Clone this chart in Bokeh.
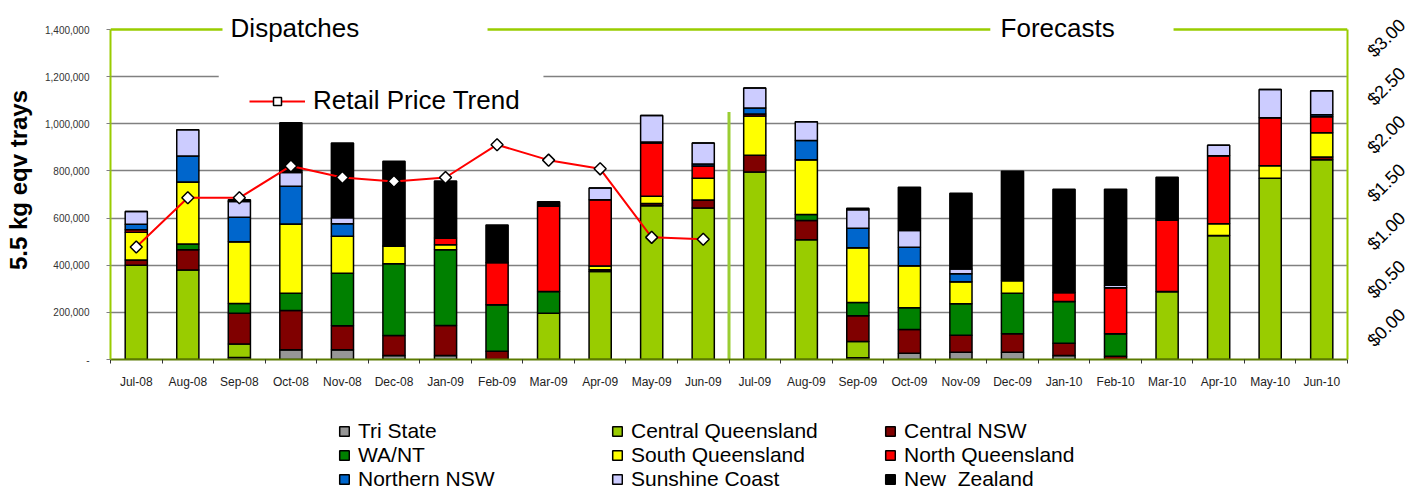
import math
from bokeh.plotting import figure
from bokeh.layouts import column
from bokeh.models import (ColumnDataSource, Range1d, LinearAxis, FixedTicker,
                          Legend, LegendItem, Label, BoxAnnotation)
from bokeh.embed import file_html
from bokeh.resources import INLINE

# ---------------- data ----------------
months = ["Jul-08", "Aug-08", "Sep-08", "Oct-08", "Nov-08", "Dec-08",
          "Jan-09", "Feb-09", "Mar-09", "Apr-09", "May-09", "Jun-09",
          "Jul-09", "Aug-09", "Sep-09", "Oct-09", "Nov-09", "Dec-09",
          "Jan-10", "Feb-10", "Mar-10", "Apr-10", "May-10", "Jun-10"]

series = ["Tri State", "Central Queensland", "Central NSW", "WA/NT",
          "South Queensland", "North Queensland", "Northern NSW",
          "Sunshine Coast", "New  Zealand"]
colors = ["#969696", "#99CC00", "#800000", "#008000", "#FFFF00",
          "#FF0000", "#0066CC", "#CCCCFF", "#000000"]

tri_state = [0, 0, 8000, 41000, 41000, 17000, 17000, 0, 0, 0, 0, 0,
             0, 0, 7000, 27000, 31000, 31000, 17000, 0, 0, 0, 0, 0]
central_qld = [400000, 380000, 58000, 0, 0, 0, 0, 0, 196000, 373000, 652000, 643000,
               795000, 508000, 69000, 0, 0, 0, 0, 0, 288000, 526000, 769000, 847000]
central_nsw = [22000, 86000, 130000, 167000, 102000, 85000, 127000, 35000, 0, 8000, 10000, 34000,
               71000, 82000, 110000, 100000, 72000, 78000, 52000, 14000, 0, 0, 0, 12000]
wa_nt = [0, 24000, 42000, 73000, 223000, 304000, 322000, 197000, 92000, 0, 0, 0,
         0, 25000, 56000, 93000, 134000, 172000, 177000, 95000, 0, 0, 0, 0]
south_qld = [118000, 263000, 262000, 294000, 157000, 75000, 21000, 0, 0, 16000, 31000, 92000,
             167000, 232000, 232000, 178000, 93000, 54000, 0, 0, 0, 50000, 53000, 103000]
north_qld = [10000, 0, 0, 0, 0, 0, 28000, 179000, 363000, 281000, 225000, 52000,
             8000, 0, 0, 0, 0, 0, 38000, 195000, 304000, 288000, 204000, 68000]
northern_nsw = [24000, 110000, 103000, 160000, 53000, 0, 0, 0, 0, 0, 5000, 8000,
                26000, 82000, 83000, 78000, 34000, 0, 0, 0, 0, 0, 0, 8000]
sunshine = [54000, 112000, 67000, 58000, 25000, 0, 0, 0, 0, 50000, 112000, 90000,
            85000, 80000, 78000, 71000, 20000, 0, 0, 11000, 0, 45000, 119000, 102000]
new_zealand = [0, 0, 8000, 211000, 318000, 360000, 242000, 160000, 18000, 0, 0, 0,
               0, 0, 7000, 184000, 321000, 464000, 438000, 407000, 181000, 0, 0, 0]

price_months = months[:12]
retail_price = [1.00, 1.51, 1.51, 1.84, 1.72, 1.68, 1.72, 2.06, 1.90, 1.81, 1.10, 1.08]

y_ticks = [0, 200000, 400000, 600000, 800000, 1000000, 1200000, 1400000]
y_tick_labels = ["-" if v == 0 else f"{v:,}" for v in y_ticks]
price_ticks = [0.0, 0.5, 1.0, 1.5, 2.0, 2.5, 3.0]
price_tick_labels = [f"${v:.2f}" for v in price_ticks]

FONT = "Liberation Sans"
GREEN = "#99CC00"

# ---------------- main figure ----------------
x_idx = list(range(len(months)))
data = {"x": x_idx}
cols = [tri_state, central_qld, central_nsw, wa_nt, south_qld, north_qld,
        northern_nsw, sunshine, new_zealand]
keys = [f"s{i}" for i in range(len(series))]
for k, c in zip(keys, cols):
    data[k] = c
src = ColumnDataSource(data)

Y_MAX = 1400000
# frame reaches the top of the page so the header texts are not clipped;
# the value axis itself stops at 1,400,000 (bounds)
p = figure(width=1417, height=390, frame_width=1237, frame_height=359,
           x_range=Range1d(-0.5, 23.5), y_range=Range1d(0, Y_MAX * 359 / 330),
           output_backend="svg", toolbar_location=None,
           min_border_left=110, min_border_right=70,
           min_border_top=0, min_border_bottom=31,
           background_fill_color="white", border_fill_color="white")
p.outline_line_color = None
p.xgrid.visible = False
p.ygrid.ticker = FixedTicker(ticks=y_ticks[1:-1])
p.ygrid.grid_line_color = "#808080"
p.ygrid.grid_line_width = 1.5

p.extra_y_ranges = {"price": Range1d(-16 / 96.5, 343 / 96.5)}

# mask of the 1.2M gridline behind the line legend
p.add_layout(BoxAnnotation(left=1.6, right=7.9, bottom=1185000, top=1215000,
                           fill_color="white", fill_alpha=1.0, line_color=None))

# stacked bars
bar_rs = p.vbar_stack(keys, x="x", width=0.43, source=src, color=colors,
                      line_color="black", line_width=1.5)

# separator between dispatches and forecasts
p.segment(x0=[11.5], y0=[0], x1=[11.5], y1=[1050000], line_color="#9ACD32", line_width=3)
# top bracket line
p.segment(x0=[-0.5, 6.815, 20.125], x1=[1.673, 16.57, 23.5],
          y0=[Y_MAX] * 3, y1=[Y_MAX] * 3, line_color=GREEN, line_width=2.5)

# retail price line
psrc = ColumnDataSource({"x": x_idx[:12], "price": retail_price})
line_r = p.line("x", "price", source=psrc, y_range_name="price",
                line_color="#FF0000", line_width=2)
scat_r = p.scatter("x", "price", source=psrc, y_range_name="price",
                   marker="square", angle=math.pi / 4, size=8.5, fill_color="white",
                   line_color="black", line_width=1.5)

# ---------------- axes ----------------
xa = p.xaxis[0]
xa.ticker = FixedTicker(ticks=x_idx, minor_ticks=[i - 0.5 for i in range(len(months) + 1)])
xa.major_label_overrides = {i: m for i, m in zip(x_idx, months)}
xa.major_tick_line_color = None
xa.minor_tick_in = 0
xa.minor_tick_out = 4
xa.minor_tick_line_color = "#333333"
xa.axis_line_color = "#5A7A00"
xa.axis_line_width = 2
xa.major_label_text_font = FONT
xa.major_label_text_font_size = "12px"
xa.major_label_text_color = "#222222"
xa.major_label_standoff = 9

ya = p.yaxis[0]
ya.ticker = FixedTicker(ticks=y_ticks)
ya.bounds = (0, Y_MAX)
ya.major_label_overrides = {v: s for v, s in zip(y_ticks, y_tick_labels)}
ya.minor_tick_line_color = None
ya.major_tick_in = 0
ya.major_tick_out = 4
ya.major_tick_line_color = "#808080"
ya.axis_line_color = GREEN
ya.axis_line_width = 2
ya.major_label_text_font = FONT
ya.major_label_text_font_size = "10px"
ya.major_label_text_color = "#333333"
ya.major_label_standoff = 17
ya.axis_label = "5.5 kg eqv trays"
ya.axis_label_text_font = FONT
ya.axis_label_text_font_size = "24px"
ya.axis_label_text_font_style = "bold"
ya.axis_label_text_color = "black"
ya.axis_label_standoff = 10

ra = LinearAxis(y_range_name="price", ticker=FixedTicker(ticks=price_ticks))
ra.bounds = (-16 / 96.5, 314 / 96.5)
ra.major_label_overrides = {v: s for v, s in zip(price_ticks, price_tick_labels)}
ra.major_label_orientation = math.pi / 4
ra.major_tick_line_color = None
ra.minor_tick_line_color = None
ra.axis_line_color = GREEN
ra.axis_line_width = 2
ra.major_label_text_font = FONT
ra.major_label_text_font_size = "18px"
ra.major_label_text_color = "black"
ra.major_label_standoff = 17
p.add_layout(ra, "right")

# ---------------- texts ----------------
p.add_layout(Label(x=1.83, y=Y_MAX, text="Dispatches", text_font=FONT,
                   text_font_size="26px", text_baseline="middle", text_align="left",
                   y_offset=2, text_color="black"))
p.add_layout(Label(x=16.77, y=Y_MAX, text="Forecasts", text_font=FONT,
                   text_font_size="26px", text_baseline="middle", text_align="left",
                   y_offset=2, text_color="black"))

price_leg = Legend(items=[LegendItem(label="Retail Price Trend", renderers=[line_r, scat_r])],
                   location=(139, 243), background_fill_alpha=0, border_line_color=None,
                   label_text_font=FONT, label_text_font_size="26px",
                   label_text_color="black",
                   glyph_width=56, glyph_height=20, label_standoff=8,
                   padding=4, margin=0, spacing=0)
p.add_layout(price_leg)

# ---------------- series legend (own strip below the chart) ----------------
lp = figure(width=1417, height=100, x_range=Range1d(0, 1), y_range=Range1d(0, 1),
            x_axis_type=None, y_axis_type=None, output_backend="svg",
            toolbar_location=None, min_border_left=110, min_border_right=70,
            min_border_top=0, min_border_bottom=0,
            background_fill_color="white", border_fill_color="white")
lp.outline_line_color = None
lp.grid.visible = False
# legend swatch proxies: one bar each, lying outside the visible ranges
swatches = [lp.vbar(x=[-5], top=[-5], width=0.1, fill_color=c, line_color="black",
                    line_width=1.5) for c in colors]

# legend shown as 3 rows x 3 columns (read row by row); items given column by column
order = [0, 3, 6, 1, 4, 7, 2, 5, 8]
items = [LegendItem(label=series[i], renderers=[swatches[i]]) for i in order]
leg = Legend(items=items, orientation="vertical", ncols=3,
             location=(228, 0), background_fill_alpha=0, border_line_color=None,
             label_text_font=FONT, label_text_font_size="21px", label_text_color="black",
             glyph_width=12, glyph_height=12, label_standoff=8,
             label_width=253, label_height=22, padding=0, margin=0, spacing=0)
lp.add_layout(leg)

layout = column(p, lp, spacing=0)
open("out.html", "w").write(file_html(layout, INLINE))
